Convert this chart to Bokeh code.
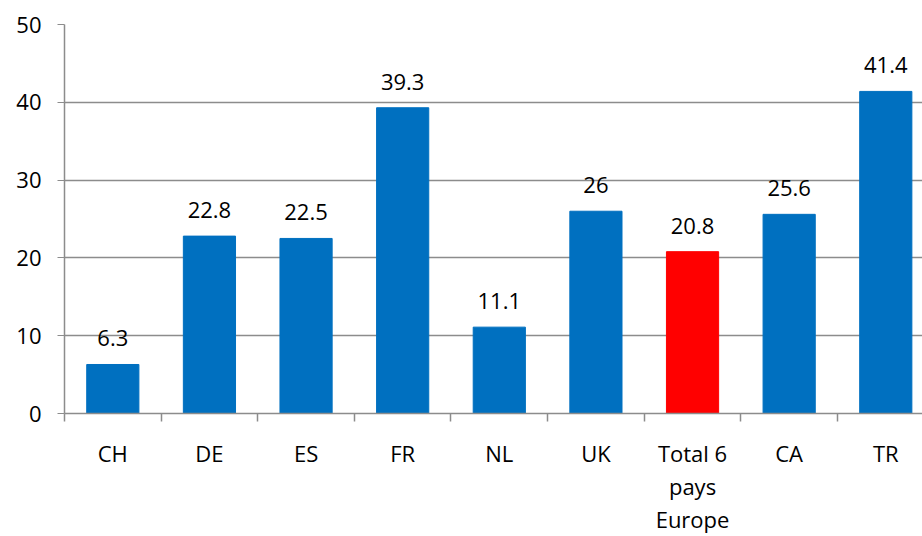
from bokeh.plotting import figure
from bokeh.models import Range1d, FixedTicker, ColumnDataSource
from bokeh.core.properties import value
from bokeh.embed import file_html
from bokeh.resources import INLINE

categories = ["CH", "DE", "ES", "FR", "NL", "UK", "Total 6\npays\nEurope", "CA", "TR"]
values = [6.3, 22.8, 22.5, 39.3, 11.1, 26, 20.8, 25.6, 41.4]
bar_colors = ["#0070C0"] * 6 + ["#FF0000"] + ["#0070C0"] * 2
y_ticks = [0, 10, 20, 30, 40, 50]

n = len(categories)
xs = [i + 0.5 for i in range(n)]
bounds = list(range(n + 1))
labels = [f"{v:g}" for v in values]

src = ColumnDataSource(dict(x=xs, v=values, c=bar_colors, lab=labels))

FONT = "Open Sans"
GRAY = "#8c8c8c"

p = figure(width=922, height=536, x_range=Range1d(0, 8.88), y_range=Range1d(0, 50),
           output_backend="svg", toolbar_location=None,
           min_border_left=64, min_border_right=0, min_border_top=24, min_border_bottom=122)
p.outline_line_color = None
p.background_fill_color = "white"
p.border_fill_color = "white"

p.vbar(x="x", top="v", width=0.54, bottom=0, color="c", source=src)
p.text(x="x", y="v", text="lab", source=src, text_align="center", text_baseline="alphabetic",
       y_offset=-26, text_font=value(FONT), text_font_size=value("22px"), text_color="black")

# y axis
ya = p.yaxis[0]
ya.ticker = FixedTicker(ticks=y_ticks)
ya.axis_line_color = GRAY
ya.axis_line_width = 1.5
ya.major_tick_line_color = GRAY
ya.major_tick_out = 7
ya.major_tick_in = 0
ya.minor_tick_line_color = None
ya.major_label_standoff = 16
ya.major_label_text_font = FONT
ya.major_label_text_font_size = "22px"
ya.major_label_text_color = "black"

# x axis
xa = p.xaxis[0]
xa.ticker = FixedTicker(ticks=xs, minor_ticks=bounds)
xa.major_label_overrides = {x: c for x, c in zip(xs, categories)}
xa.axis_line_color = GRAY
xa.axis_line_width = 1.5
xa.major_tick_line_color = None
xa.major_tick_out = 8
xa.major_tick_in = 0
xa.minor_tick_line_color = GRAY
xa.minor_tick_line_width = 1.5
xa.minor_tick_out = 8
xa.minor_tick_in = 0
xa.major_label_standoff = 16
xa.major_label_text_font = FONT
xa.major_label_text_font_size = "22px"
xa.major_label_text_color = "black"
xa.major_label_text_line_height = 1.1

p.xgrid.visible = False
p.ygrid.ticker = FixedTicker(ticks=y_ticks)
p.ygrid.grid_line_color = GRAY
p.ygrid.grid_line_width = 1.5

open("out.html", "w").write(file_html(p, INLINE))
